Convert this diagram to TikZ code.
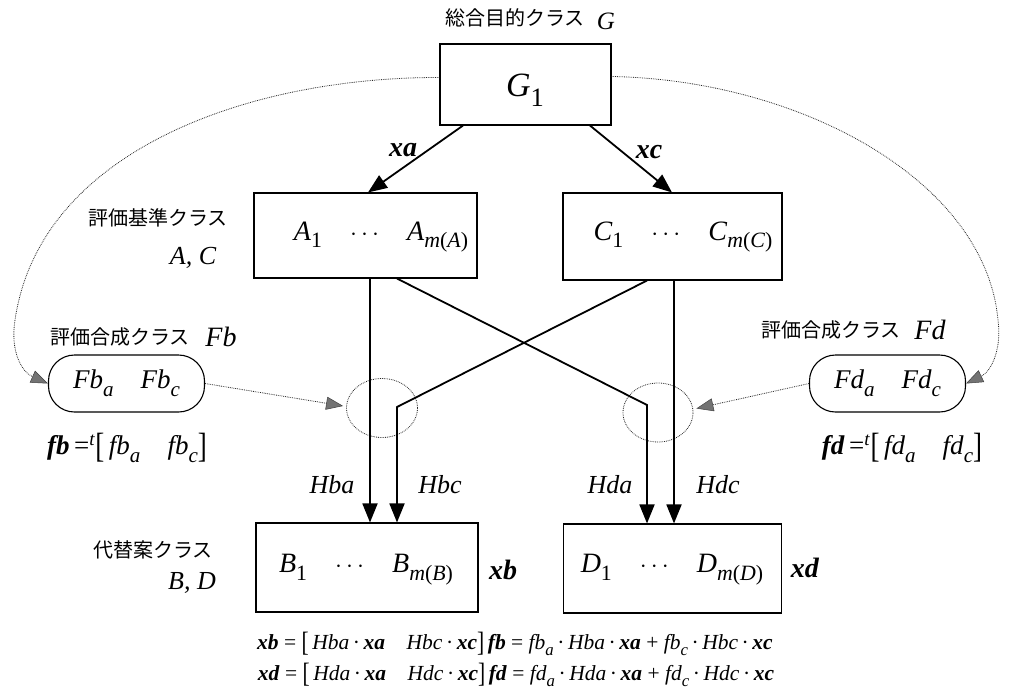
\documentclass[tikz,border=0pt]{standalone}
\usepackage{fontspec}
\setmainfont{Liberation Serif}
\newfontfamily\jp{Noto Sans CJK JP}
\usetikzlibrary{arrows.meta,shapes.geometric}
\newcommand{\vi}[1]{\textit{#1}}
\newcommand{\vb}[1]{\textbf{\textit{#1}}}
\newcommand{\lo}[1]{\raisebox{-0.28em}{\scalebox{0.78}{\itshape #1}}}
\newcommand{\lu}[1]{\raisebox{-0.28em}{\scalebox{0.78}{#1}}}
\newcommand{\tb}[1]{\raisebox{-0.12em}{\scalebox{1}[1.3]{#1}}}
\newcommand{\md}{\,·\,}
\tikzset{
  box/.style={draw, line width=1.1pt, inner sep=0pt},
  cls/.style={draw, line width=1.1pt, rounded corners=26pt, inner sep=0pt, minimum width=156pt, minimum height=57pt, font=\fontsize{27}{30}\selectfont},
  main/.style={line width=1.8pt, -{Triangle[length=19pt,width=15pt]}},
  dotln/.style={densely dotted, line width=0.8pt, black!85},
  dotarr/.style={dotln, -{Triangle[length=17pt,width=13pt,fill=black!55,color=black!75,line width=0.5pt]}},
  ring/.style={draw, dotln, ellipse, inner sep=0pt},
  jt/.style={font=\jp\fontsize{20}{22}\selectfont, inner sep=0pt},
  it/.style={font=\fontsize{26}{28}\selectfont\itshape, inner sep=0pt},
  lbl/.style={font=\fontsize{28}{30}\selectfont, inner sep=0pt},
  bl/.style={font=\fontsize{28}{30}\selectfont, inner sep=0pt},
  eq/.style={font=\fontsize{21.5}{24}\selectfont, inner sep=0pt},
}
\begin{document}
\begin{tikzpicture}[x=1pt,y=-1pt]
\useasboundingbox (0,0) rectangle (1014,699);
% boxes
\node[box, minimum width=171pt, minimum height=81pt] (G1) at (525.5,84.5) {};
\node[box, minimum width=223pt, minimum height=85pt] (A) at (365.5,235.5) {};
\node[box, minimum width=219pt, minimum height=87pt] (C) at (672.5,236.5) {};
\node[box, minimum width=222pt, minimum height=89pt] (B) at (367,567.5) {};
\node[box, minimum width=218pt, minimum height=89pt] (D) at (672.5,568.5) {};
\node[cls] (Fb) at (126.5,383.5) {\vi{Fb}\lo{a}\quad\vi{Fb}\lo{c}};
\node[cls] (Fd) at (887.5,383.5) {\vi{Fd}\lo{a}\quad\vi{Fd}\lo{c}};
% box contents
\node[lbl, font=\fontsize{34}{36}\selectfont] (g1t) at (525,90) {\vi{G}\lu{1}};
\node[lbl] (at) at (381,237) {\vi{A}\lu{1}\quad$\cdots$\quad\vi{A}\lu{\vi{m}(\vi{A})}};
\node[lbl] (ct) at (683,237) {\vi{C}\lu{1}\quad$\cdots$\quad\vi{C}\lu{\vi{m}(\vi{C})}};
\node[lbl] (bt) at (366,570) {\vi{B}\lu{1}\quad$\cdots$\quad\vi{B}\lu{\vi{m}(\vi{B})}};
\node[lbl] (dt) at (672,570) {\vi{D}\lu{1}\quad$\cdots$\quad\vi{D}\lu{\vi{m}(\vi{D})}};
% class labels
\node[jt] (tg) at (515,18) {総合目的クラス};
\node[it, font=\fontsize{25}{26}\selectfont\itshape] (tgG) at (606,21) {G};
\node[jt] (tac) at (158,218) {評価基準クラス};
\node[it] (tac2) at (193,258) {A, C};
\node[jt] (tfb) at (120,337) {評価合成クラス};
\node[it, font=\fontsize{28}{30}\selectfont\itshape] (tfb2) at (221,337) {Fb};
\node[jt] (tfd) at (831,330) {評価合成クラス};
\node[it, font=\fontsize{28}{30}\selectfont\itshape] (tfd2) at (930,330) {Fd};
\node[jt] (tbd) at (153,550) {代替案クラス};
\node[it] (tbd2) at (192,583) {B, D};
% vectors
\node[lbl, font=\fontsize{27}{30}\selectfont] (fbv) at (127,448) {\vb{fb}\,=\textsuperscript{\vi{t}}\tb{[}\,\vi{fb}\lo{a}\quad\vi{fb}\lo{c}\tb{]}};
\node[lbl, font=\fontsize{27}{30}\selectfont] (fdv) at (902,448) {\vb{fd}\,=\textsuperscript{\vi{t}}\tb{[}\,\vi{fd}\lo{a}\quad\vi{fd}\lo{c}\tb{]}};
% rings
\node[ring, minimum width=71pt, minimum height=59pt] (rb) at (382,408) {};
\node[ring, minimum width=70pt, minimum height=59pt] (rd) at (658,412.5) {};
% kinks
\coordinate (kA) at (647,405);
\coordinate (kC) at (397,407);
% main connectors
\draw[main] ([xshift=-62.5pt]G1.south) -- ([xshift=2.5pt]A.north);
\draw[main] ([xshift=64.5pt]G1.south) -- ([xshift=-0.5pt]C.north);
\draw[main] ([xshift=4.5pt]A.south) -- ([xshift=3pt]B.north);
\draw[main] ([xshift=31.5pt]A.south) -- (kA) -- (kA |- D.north);
\draw[main] ([xshift=-25.5pt]C.south) -- (kC) -- (kC |- B.north);
\draw[main] ([xshift=1.5pt]C.south) -- ([xshift=1.5pt]D.north);
% edge labels
\node[bl] (xa) at (403,150) {\vb{xa}};
\node[bl] (xc) at (649,152) {\vb{xc}};
\node[it] (hba) at (332,485) {Hba};
\node[it] (hbc) at (440,485) {Hbc};
\node[it] (hda) at (610,485) {Hda};
\node[it] (hdc) at (718,485) {Hdc};
\node[bl] (xb) at (503,570) {\vb{xb}};
\node[bl] (xd) at (805,568) {\vb{xd}};
% dotted connectors
\draw[dotarr] ([yshift=7pt]G1.west) .. controls (250,77) and (40,150) .. (15,320)
  .. controls (10,352) and (22,372) .. (Fb.west);
\draw[dotarr] ([yshift=8pt]G1.east) .. controls (800,80) and (985,180) .. (998,320)
  .. controls (1002,352) and (990,372) .. (Fd.east);
\draw[dotarr] (Fb.east) -- ([xshift=-3pt,yshift=2pt]rb.west);
\draw[dotarr] (Fd.west) -- ([xshift=3pt,yshift=4pt]rd.east);
% equations
\node[eq] (e1) at (515,644) {\vb{xb} = \tb{[}\,\vi{Hba}\md\vb{xa}\quad\vi{Hbc}\md\vb{xc}\tb{]}\,\vb{fb} = \vi{fb}\lo{a}\md\vi{Hba}\md\vb{xa} + \vi{fb}\lo{c}\md\vi{Hbc}\md\vb{xc}};
\node[eq] (e2) at (516,675) {\vb{xd} = \tb{[}\,\vi{Hda}\md\vb{xa}\quad\vi{Hdc}\md\vb{xc}\tb{]}\,\vb{fd} = \vi{fd}\lo{a}\md\vi{Hda}\md\vb{xa} + \vi{fd}\lo{c}\md\vi{Hdc}\md\vb{xc}};
\end{tikzpicture}
\end{document}
